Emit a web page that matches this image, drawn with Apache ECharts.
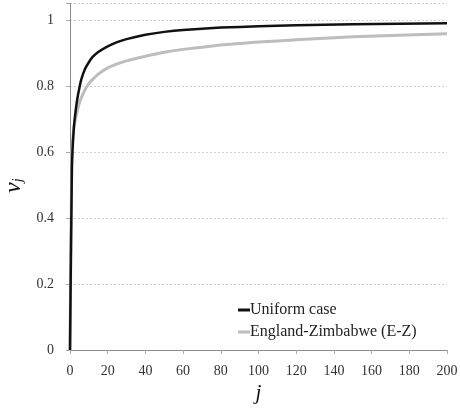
<!DOCTYPE html>
<html>
<head>
<meta charset="utf-8">
<script src="https://cdn.jsdelivr.net/npm/echarts@6/dist/echarts.min.js"></script>
<style>html,body{margin:0;padding:0;background:#fff}#c{width:460px;height:409px}</style>
</head>
<body>
<div id="c"></div>
<script>
var seriesNames = ['Uniform case', 'England-Zimbabwe (E-Z)'];
var jValues = [0, 1, 2, 3, 4, 5, 6, 8, 10, 12, 15, 20, 25, 30, 40, 50, 60, 80, 100, 120, 150, 200];
var uniformValues = [0, 0.55, 0.67, 0.725, 0.765, 0.795, 0.82, 0.852, 0.872, 0.888, 0.903, 0.92, 0.933, 0.942, 0.955, 0.964, 0.97, 0.977, 0.981, 0.984, 0.987, 0.99];
var ezValues = [0, 0.6, 0.67, 0.703, 0.728, 0.748, 0.764, 0.789, 0.807, 0.82, 0.836, 0.855, 0.867, 0.876, 0.89, 0.902, 0.911, 0.924, 0.933, 0.94, 0.949, 0.958];
var yTicks = [0, 0.2, 0.4, 0.6, 0.8, 1];

function pairs(xs, ys) { return xs.map(function (x, i) { return [x, ys[i]]; }); }
var serif = '"Liberation Serif", "DejaVu Serif", serif';
var chart = echarts.init(document.getElementById('c'), null, {renderer: 'canvas'});
chart.setOption({
  animation: false,
  backgroundColor: '#fff',
  grid: {left: 70, right: 13, top: 3.5, bottom: 59, containLabel: false, outerBoundsMode: 'none'},
  legend: {
    orient: 'vertical', left: 233, top: 296, itemGap: 4,
    itemWidth: 12, itemHeight: 3, icon: 'rect',
    textStyle: {fontFamily: serif, fontSize: 16, color: '#222', lineHeight: 18, padding: [0, 0, 0, -5]},
    data: seriesNames
  },
  xAxis: {
    type: 'value', min: 0, max: 200, interval: 20,
    name: 'j', nameLocation: 'middle', nameGap: 30,
    nameTextStyle: {fontFamily: serif, fontSize: 21, fontStyle: 'italic', color: '#111'},
    axisLine: {lineStyle: {color: '#8c8c8c', width: 1}},
    axisTick: {show: true, length: 4, lineStyle: {color: '#aaa'}},
    axisLabel: {fontFamily: serif, fontSize: 14, color: '#333', margin: 14},
    splitLine: {show: false}
  },
  yAxis: {
    type: 'value', min: 0, max: 1.05, interval: 0.2,
    name: '{v|v}{s|j}', nameLocation: 'middle', nameGap: 42, nameRotate: 90,
    nameTextStyle: {
      padding: [0, 18, 0, 0],
      rich: {
        v: {fontFamily: serif, fontSize: 24, fontStyle: 'italic', color: '#111', verticalAlign: 'top'},
        s: {fontFamily: serif, fontSize: 14, fontStyle: 'italic', color: '#111', verticalAlign: 'bottom', padding: [10, 0, 0, 0]}
      }
    },
    axisLine: {show: true, lineStyle: {color: '#8c8c8c', width: 1}},
    axisTick: {show: true, length: 4, lineStyle: {color: '#aaa'}},
    axisLabel: {
      fontFamily: serif, fontSize: 14, color: '#333', margin: 16,
      formatter: function (v) {
        for (var i = 0; i < yTicks.length; i++) { if (Math.abs(v - yTicks[i]) < 1e-9) return String(yTicks[i]); }
        return '';
      }
    },
    splitLine: {show: true, lineStyle: {color: '#d0d0d0', type: [2, 2], width: 1}}
  },
  series: [
    {name: seriesNames[1], type: 'line', data: pairs(jValues, ezValues), showSymbol: false, smooth: 0.15,
     lineStyle: {color: '#bdbdbd', width: 3}, itemStyle: {color: '#bdbdbd'}, z: 2},
    {name: seriesNames[0], type: 'line', data: pairs(jValues, uniformValues), showSymbol: false, smooth: 0.15,
     lineStyle: {color: '#111', width: 2.5}, itemStyle: {color: '#111'}, z: 3}
  ]
});
</script>
</body>
</html>
